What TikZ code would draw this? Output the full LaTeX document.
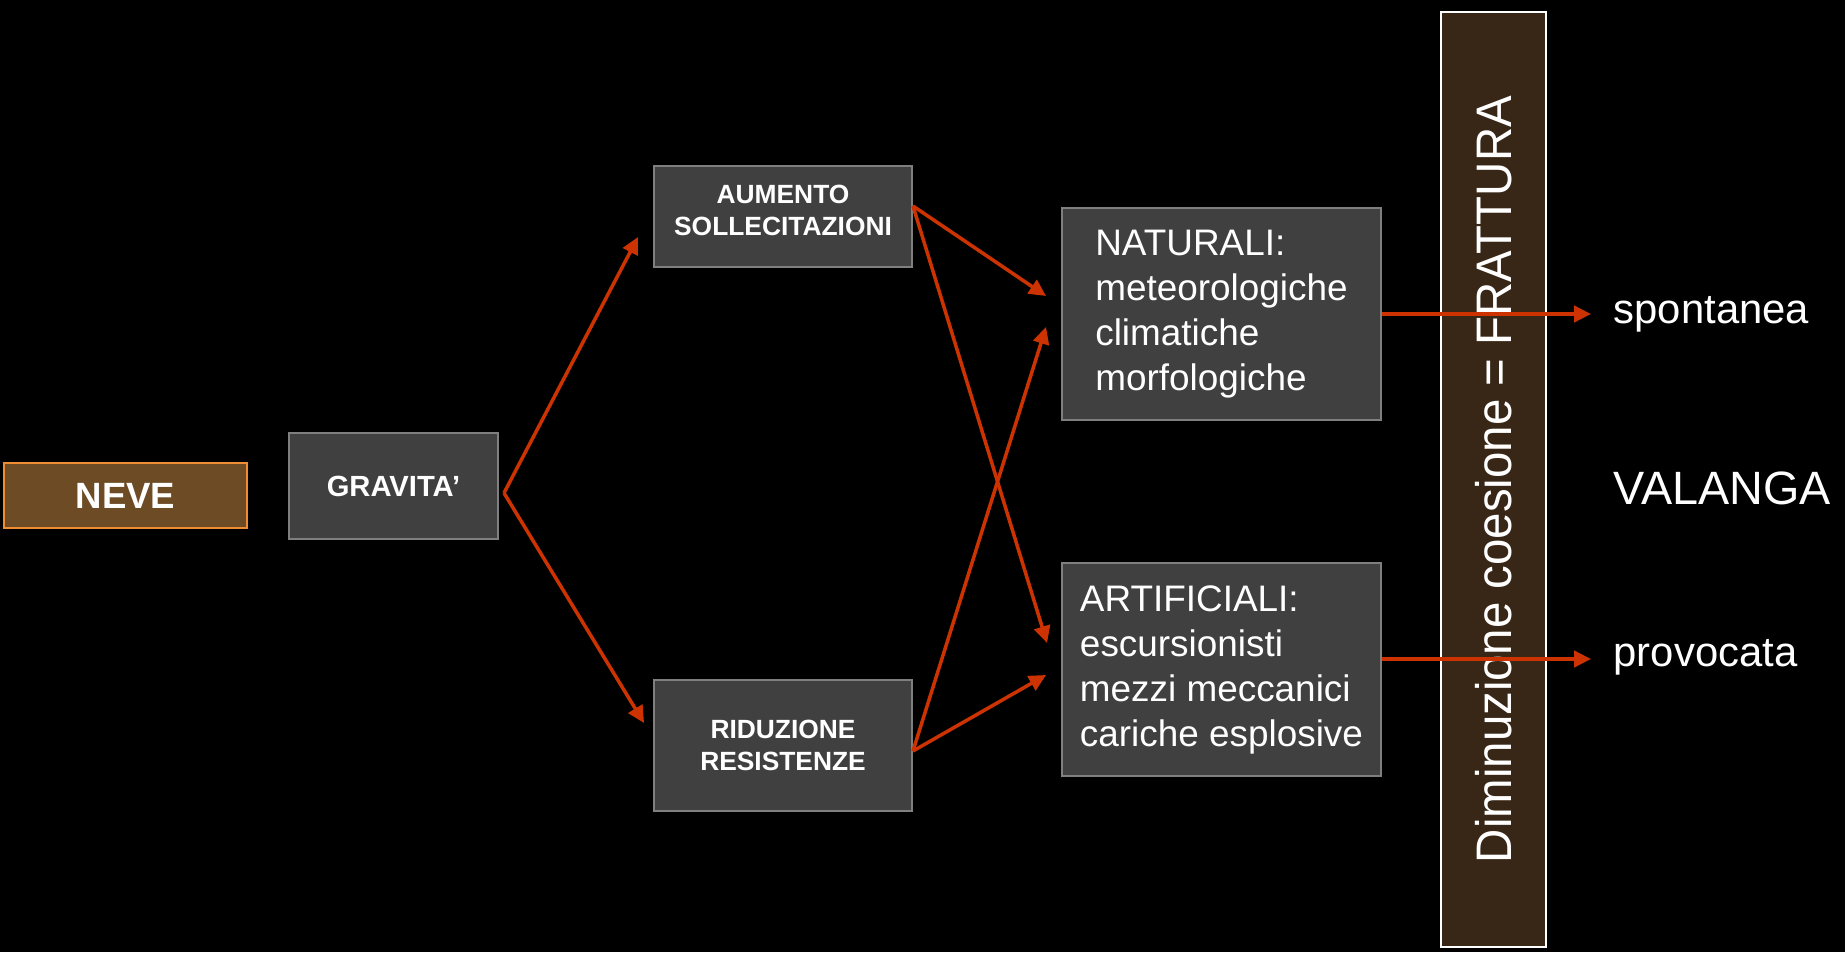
\documentclass[tikz,border=0pt]{standalone}
\usepackage{fontspec}
\setmainfont{Liberation Sans}
\usetikzlibrary{arrows.meta}

\definecolor{boxgray}{RGB}{64,64,64}
\definecolor{boxline}{RGB}{127,127,127}
\definecolor{nevebrown}{RGB}{108,75,37}
\definecolor{neveline}{RGB}{240,140,50}
\definecolor{bandbrown}{RGB}{56,39,22}
\definecolor{arrowred}{RGB}{204,51,0}

\begin{document}
\begin{tikzpicture}[
    box/.style={draw=boxline, fill=boxgray, line width=0.55pt, inner sep=0pt, text=white, align=center},
    capsfont/.style={font=\bfseries\fontsize{7.5}{9.1}\selectfont},
    listfont/.style={font=\fontsize{10.5}{12.8}\selectfont, align=left},
    redarrow/.style={draw=arrowred, line width=1pt, -{Triangle[length=4.8pt,width=4.6pt]}},
    endlabel/.style={anchor=base west, inner sep=0pt, text=white}
  ]

    \fill[black] (0,0) rectangle (18.45,9.52);

    \node[box, fill=nevebrown, draw=neveline, minimum width=2.43cm, minimum height=0.65cm,
      font=\bfseries\fontsize{10.4}{12}\selectfont] (neve) at (1.255,4.565) {NEVE};
    \node[box, minimum width=2.09cm, minimum height=1.06cm,
      font=\bfseries\fontsize{8.3}{10}\selectfont] (grav) at (3.935,4.66) {GRAVITA’};
    \node[box, capsfont, minimum width=2.58cm, minimum height=1.01cm, text depth=0.13cm]
      (aum) at (7.83,7.355) {AUMENTO\\SOLLECITAZIONI};
    \node[box, capsfont, minimum width=2.58cm, minimum height=1.31cm] (rid) at (7.83,2.065) {RIDUZIONE\\RESISTENZE};
    \node[box, listfont, minimum width=3.19cm, minimum height=2.12cm] (nat) at (12.215,6.38)
      {NATURALI:\\meteorologiche\\climatiche\\morfologiche};
    \node[box, listfont, minimum width=3.19cm, minimum height=2.13cm] (art) at (12.215,2.825)
      {ARTIFICIALI:\\escursionisti\\mezzi meccanici\\cariche esplosive};

    \node[draw=white, fill=bandbrown, line width=0.5pt, rotate=90, inner sep=0pt, text=white,
      minimum width=9.35cm, minimum height=1.05cm, font=\fontsize{14.2}{17}\selectfont]
      (band) at (14.935,4.725) {\scalebox{0.95}[1]{Diminuzione coesione = FRATTURA}};

    \node[endlabel, font=\fontsize{11.9}{14}\selectfont] (spont) at (16.13,6.29) {spontanea};
    \node[endlabel, font=\fontsize{13.3}{16}\selectfont] (valanga) at (16.13,4.48) {VALANGA};
    \node[endlabel, font=\fontsize{11.9}{14}\selectfont] (prov) at (16.13,2.86) {provocata};

    \coordinate (gravout) at ([xshift=0.05cm,yshift=-0.07cm]grav.east);
    \coordinate (aumout) at ([yshift=0.105cm]aum.east);
    \coordinate (ridout) at ([yshift=-0.055cm]rid.east);
    \coordinate (artout) at ([yshift=0.105cm]art.east);

    \draw[redarrow] (gravout) -- ([xshift=-0.15cm,yshift=-0.205cm]aum.west);
    \draw[redarrow] (gravout) -- ([xshift=-0.09cm,yshift=0.225cm]rid.west);
    \draw[redarrow] (aumout) -- ([xshift=-0.15cm,yshift=0.18cm]nat.west);
    \draw[redarrow] (aumout) -- ([xshift=-0.14cm,yshift=0.265cm]art.west);
    \draw[redarrow] (ridout) -- ([xshift=-0.15cm,yshift=-0.13cm]nat.west);
    \draw[redarrow] (ridout) -- ([xshift=-0.15cm,yshift=-0.055cm]art.west);

    \draw[redarrow, shorten >=0.22cm] (nat.east) -- (nat.east -| spont.west);
    \draw[redarrow, shorten >=0.22cm] (artout) -- (artout -| prov.west);

\end{tikzpicture}
\end{document}
